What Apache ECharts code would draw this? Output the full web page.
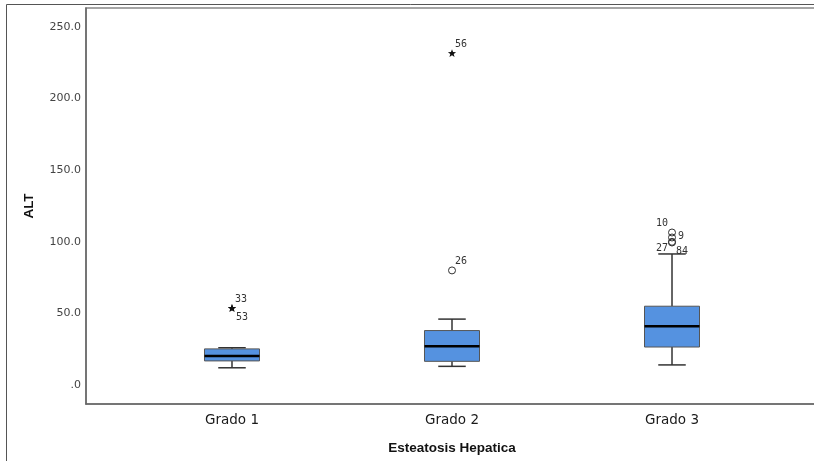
<!DOCTYPE html>
<html><head><meta charset="utf-8">
<script src="https://cdn.jsdelivr.net/npm/echarts@6/dist/echarts.min.js"></script>
<style>html,body{margin:0;padding:0;background:#fff}#c{width:814px;height:461px}</style>
</head><body><div id="c"></div>
<script>
// ---- data ----
const categories = ['Grado 1', 'Grado 2', 'Grado 3'];
const whiskerLow = [12, 13, 14];
const q1 = [16.8, 16.5, 26.5];
const median = [20.3, 27, 41];
const q3 = [25.2, 38, 55];
const whiskerHigh = [26, 46, 91.5];
// outliers (circles)
const outlierGroup = [2, 3, 3, 3, 3];
const outlierValue = [80, 106.5, 103, 100, 99.5];
const outlierId = ['26', '10', '9', '27', '84'];
// extremes (stars)
const extremeGroup = [1, 1, 2];
const extremeValue = [53.5, 53.5, 231.5];
const extremeId = ['33', '53', '56'];
const yTicks = [0, 50, 100, 150, 200, 250];
// label placement (style)
const outlierLabelPos = ['tr', 'tl', 'r', 'bl', 'br'];
const extremeLabelPos = ['tr', 'br', 'tr'];

const boxData = categories.map((c, i) => [i + 1, whiskerLow[i], q1[i], median[i], q3[i], whiskerHigh[i]]);
const outlierData = outlierValue.map((v, i) => [outlierGroup[i], v, i]);
const extremeData = extremeValue.map((v, i) => [extremeGroup[i], v, i]);

function labelEl(pos, px, py, text) {
  let x = px, y = py, align = 'left';
  if (pos === 'tr') { x = px + 3; y = py - 9; }
  else if (pos === 'br') { x = px + 4; y = py + 9; }
  else if (pos === 'tl') { x = px - 4; y = py - 9; align = 'right'; }
  else if (pos === 'bl') { x = px - 4; y = py + 7; align = 'right'; }
  else if (pos === 'r') { x = px + 6; y = py - 1; }
  return { type: 'text', style: { x: x, y: y, text: text, fill: '#333', font: '10px "DejaVu Sans Mono"', align: align, verticalAlign: 'middle' } };
}

function renderBox(params, api) {
  const x = api.value(0);
  const lo = api.coord([x, api.value(1)]);
  const b1 = api.coord([x, api.value(2)]);
  const md = api.coord([x, api.value(3)]);
  const b3 = api.coord([x, api.value(4)]);
  const hi = api.coord([x, api.value(5)]);
  const w = api.size([0.25, 0])[0];
  const cx = lo[0];
  const ws = { stroke: '#333', lineWidth: 1.5 };
  return {
    type: 'group', children: [
      { type: 'line', shape: { x1: cx, y1: b1[1], x2: cx, y2: lo[1] }, style: ws },
      { type: 'line', shape: { x1: cx, y1: b3[1], x2: cx, y2: hi[1] }, style: ws },
      { type: 'line', shape: { x1: cx - w / 4, y1: lo[1], x2: cx + w / 4, y2: lo[1] }, style: ws },
      { type: 'line', shape: { x1: cx - w / 4, y1: hi[1], x2: cx + w / 4, y2: hi[1] }, style: ws },
      { type: 'rect', shape: { x: cx - w / 2, y: b3[1], width: w, height: b1[1] - b3[1] }, style: { fill: '#5592e0', stroke: '#555', lineWidth: 1 } },
      { type: 'line', shape: { x1: cx - w / 2, y1: md[1], x2: cx + w / 2, y2: md[1] }, style: { stroke: '#000', lineWidth: 2.5 } }
    ]
  };
}

function renderOutlier(params, api) {
  const p = api.coord([api.value(0), api.value(1)]);
  const i = api.value(2);
  return {
    type: 'group', children: [
      { type: 'circle', shape: { cx: p[0], cy: p[1], r: 3.5 }, style: { fill: 'none', stroke: '#333', lineWidth: 1 } },
      labelEl(outlierLabelPos[i], p[0], p[1], outlierId[i])
    ]
  };
}

function starPoints(cx, cy, R, r) {
  const pts = [];
  for (let k = 0; k < 10; k++) {
    const a = -Math.PI / 2 + k * Math.PI / 5;
    const rr = k % 2 === 0 ? R : r;
    pts.push([cx + rr * Math.cos(a), cy + rr * Math.sin(a)]);
  }
  return pts;
}

function renderExtreme(params, api) {
  const p = api.coord([api.value(0), api.value(1)]);
  const i = api.value(2);
  return {
    type: 'group', children: [
      { type: 'polygon', shape: { points: starPoints(p[0], p[1], 4.3, 1.8) }, style: { fill: '#111' } },
      labelEl(extremeLabelPos[i], p[0], p[1], extremeId[i])
    ]
  };
}

const chart = echarts.init(document.getElementById('c'), null, { renderer: 'canvas' });
chart.setOption({
  animation: false,
  backgroundColor: '#fff',
  grid: { left: 86, width: 732, top: 8, bottom: 57, outerBoundsMode: 'none', containLabel: false, show: true, borderColor: '#888', borderWidth: 1.5, backgroundColor: 'transparent' },
  graphic: [
    { type: 'line', shape: { x1: 6.5, y1: 4.5, x2: 814, y2: 4.5 }, style: { stroke: '#555', lineWidth: 1 } },
    { type: 'line', shape: { x1: 6.5, y1: 4.5, x2: 6.5, y2: 461 }, style: { stroke: '#555', lineWidth: 1 } }
  ],
  xAxis: {
    type: 'value', min: 0.3364, max: 3.6636,
    axisLine: { show: true, onZero: false, lineStyle: { color: '#666', width: 1.5 } },
    axisTick: { show: false },
    splitLine: { show: false },
    axisLabel: {
      customValues: [1, 2, 3],
      formatter: v => categories[Math.round(v) - 1] || '',
      color: '#1a1a1a', fontFamily: 'DejaVu Sans', fontSize: 13.5, margin: 9
    },
    name: 'Esteatosis Hepatica', nameLocation: 'middle', nameGap: 37,
    nameTextStyle: { fontFamily: 'Liberation Sans', fontWeight: 'bold', fontSize: 13.5, color: '#111' }
  },
  yAxis: {
    type: 'value', min: -13.3, max: 263.3,
    axisLine: { show: true, onZero: false, lineStyle: { color: '#666', width: 1.5 } },
    axisTick: { show: false },
    splitLine: { show: false },
    axisLabel: {
      customValues: yTicks,
      formatter: v => (v === 0 ? '.0' : v.toFixed(1)),
      color: '#444', fontFamily: 'DejaVu Sans', fontSize: 11, margin: 5
    },
    name: 'ALT', nameLocation: 'middle', nameGap: 50, nameRotate: 90,
    nameTextStyle: { fontFamily: 'Liberation Sans', fontWeight: 'bold', fontSize: 13.5, color: '#111' }
  },
  series: [
    { type: 'custom', renderItem: renderBox, data: boxData, encode: { x: 0, y: [1, 2, 3, 4, 5] }, clip: false },
    { type: 'custom', renderItem: renderOutlier, data: outlierData, encode: { x: 0, y: 1 }, clip: false },
    { type: 'custom', renderItem: renderExtreme, data: extremeData, encode: { x: 0, y: 1 }, clip: false }
  ]
});
</script>
</body></html>
